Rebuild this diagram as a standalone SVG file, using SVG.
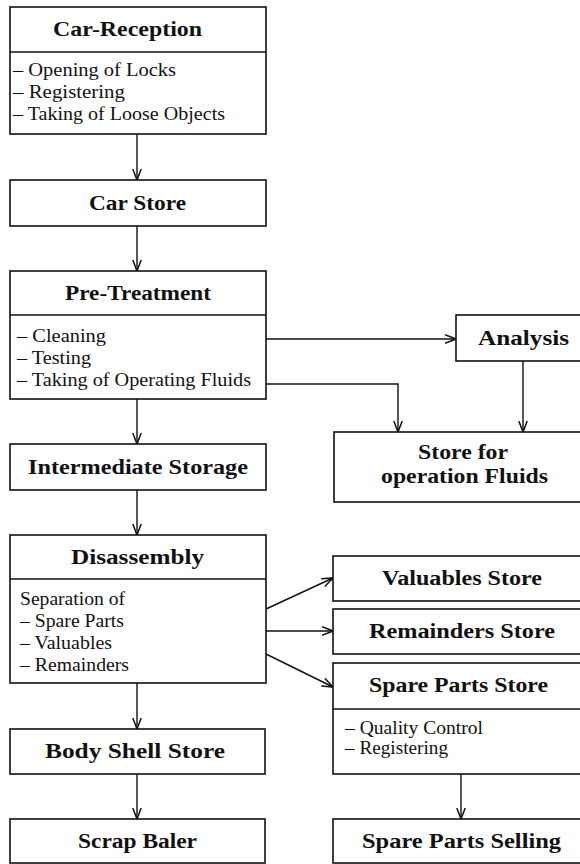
<svg xmlns="http://www.w3.org/2000/svg" width="580" height="864" viewBox="0 0 580 864">
<style>
.box{fill:#fff;stroke:#111;stroke-width:1.6}
.div{stroke:#111;stroke-width:1.4}
.t{font-family:"Liberation Serif","Times New Roman",serif;font-weight:bold;font-size:20px;fill:#111}
.i{font-family:"Liberation Serif","Times New Roman",serif;font-size:18px;fill:#111}
.c{fill:none;stroke:#111;stroke-width:1.4}
</style>
<defs>
<marker id="ah" markerUnits="userSpaceOnUse" viewBox="0 0 12 10" refX="11.5" refY="5" markerWidth="12" markerHeight="10" orient="auto">
<path d="M0.5,0.8 L11.5,5 L0.5,9.2" fill="none" stroke="#111" stroke-width="1.5"/>
</marker>
</defs>
<rect width="580" height="864" fill="#fff"/>

<g id="connectors">
<line class="c" x1="137" y1="134" x2="137" y2="180" marker-end="url(#ah)"/>
<line class="c" x1="137" y1="226" x2="137" y2="271" marker-end="url(#ah)"/>
<line class="c" x1="266" y1="339" x2="456" y2="339" marker-end="url(#ah)"/>
<polyline class="c" points="266,384 398,384 398,432" marker-end="url(#ah)"/>
<line class="c" x1="523" y1="361" x2="523" y2="432" marker-end="url(#ah)"/>
<line class="c" x1="137" y1="399" x2="137" y2="444" marker-end="url(#ah)"/>
<line class="c" x1="137" y1="490" x2="137" y2="535" marker-end="url(#ah)"/>
<line class="c" x1="266" y1="609" x2="333" y2="578" marker-end="url(#ah)"/>
<line class="c" x1="266" y1="631" x2="333" y2="631" marker-end="url(#ah)"/>
<line class="c" x1="266" y1="654" x2="333" y2="687" marker-end="url(#ah)"/>
<line class="c" x1="137" y1="683" x2="137" y2="729" marker-end="url(#ah)"/>
<line class="c" x1="137" y1="774" x2="137" y2="819" marker-end="url(#ah)"/>
<line class="c" x1="461" y1="774" x2="461" y2="819" marker-end="url(#ah)"/>
</g>

<g id="car-reception">
<rect class="box" x="10" y="7" width="256" height="127"/>
<line class="div" x1="10" y1="52" x2="266" y2="52"/>
<text class="t" x="53" y="36" textLength="149" lengthAdjust="spacingAndGlyphs">Car-Reception</text>
<text class="i" x="13" y="76" textLength="163" lengthAdjust="spacingAndGlyphs">– Opening of Locks</text>
<text class="i" x="13" y="98" textLength="112" lengthAdjust="spacingAndGlyphs">– Registering</text>
<text class="i" x="13" y="120" textLength="212" lengthAdjust="spacingAndGlyphs">– Taking of Loose Objects</text>
</g>

<g id="car-store">
<rect class="box" x="10" y="180" width="256" height="46"/>
<text class="t" x="89" y="210" textLength="97" lengthAdjust="spacingAndGlyphs">Car Store</text>
</g>

<g id="pre-treatment">
<rect class="box" x="10" y="271" width="256" height="128"/>
<line class="div" x1="10" y1="315" x2="266" y2="315"/>
<text class="t" x="65" y="300" textLength="146" lengthAdjust="spacingAndGlyphs">Pre-Treatment</text>
<text class="i" x="17" y="342" textLength="89" lengthAdjust="spacingAndGlyphs">– Cleaning</text>
<text class="i" x="17" y="364" textLength="74" lengthAdjust="spacingAndGlyphs">– Testing</text>
<text class="i" x="17" y="386" textLength="234" lengthAdjust="spacingAndGlyphs">– Taking of Operating Fluids</text>
</g>

<g id="analysis">
<rect class="box" x="456" y="315" width="126" height="46"/>
<text class="t" x="478" y="345" textLength="91" lengthAdjust="spacingAndGlyphs">Analysis</text>
</g>

<g id="store-fluids">
<rect class="box" x="334" y="432" width="248" height="70"/>
<text class="t" x="418" y="459" textLength="90" lengthAdjust="spacingAndGlyphs">Store for</text>
<text class="t" x="381" y="483" textLength="167" lengthAdjust="spacingAndGlyphs">operation Fluids</text>
</g>

<g id="intermediate-storage">
<rect class="box" x="10" y="444" width="256" height="46"/>
<text class="t" x="28" y="474" textLength="220" lengthAdjust="spacingAndGlyphs">Intermediate Storage</text>
</g>

<g id="disassembly">
<rect class="box" x="10" y="535" width="256" height="148"/>
<line class="div" x1="10" y1="579" x2="266" y2="579"/>
<text class="t" x="71" y="564" textLength="133" lengthAdjust="spacingAndGlyphs">Disassembly</text>
<text class="i" x="20" y="605" textLength="105" lengthAdjust="spacingAndGlyphs">Separation of</text>
<text class="i" x="20" y="627" textLength="104" lengthAdjust="spacingAndGlyphs">– Spare Parts</text>
<text class="i" x="20" y="649" textLength="92" lengthAdjust="spacingAndGlyphs">– Valuables</text>
<text class="i" x="20" y="671" textLength="109" lengthAdjust="spacingAndGlyphs">– Remainders</text>
</g>

<g id="valuables-store">
<rect class="box" x="333" y="556" width="249" height="45"/>
<text class="t" x="382" y="585" textLength="160" lengthAdjust="spacingAndGlyphs">Valuables Store</text>
</g>

<g id="remainders-store">
<rect class="box" x="333" y="609" width="249" height="45"/>
<text class="t" x="369" y="638" textLength="186" lengthAdjust="spacingAndGlyphs">Remainders Store</text>
</g>

<g id="spare-parts-store">
<rect class="box" x="333" y="663" width="249" height="111"/>
<line class="div" x1="333" y1="709" x2="582" y2="709"/>
<text class="t" x="369" y="692" textLength="179" lengthAdjust="spacingAndGlyphs">Spare Parts Store</text>
<text class="i" x="345" y="734" textLength="138" lengthAdjust="spacingAndGlyphs">– Quality Control</text>
<text class="i" x="345" y="754" textLength="103" lengthAdjust="spacingAndGlyphs">– Registering</text>
</g>

<g id="body-shell-store">
<rect class="box" x="10" y="729" width="255" height="45"/>
<text class="t" x="45" y="758" textLength="180" lengthAdjust="spacingAndGlyphs">Body Shell Store</text>
</g>

<g id="scrap-baler">
<rect class="box" x="10" y="819" width="255" height="44"/>
<text class="t" x="78" y="848" textLength="119" lengthAdjust="spacingAndGlyphs">Scrap Baler</text>
</g>

<g id="spare-parts-selling">
<rect class="box" x="333" y="819" width="249" height="44"/>
<text class="t" x="362" y="848" textLength="199" lengthAdjust="spacingAndGlyphs">Spare Parts Selling</text>
</g>
</svg>
